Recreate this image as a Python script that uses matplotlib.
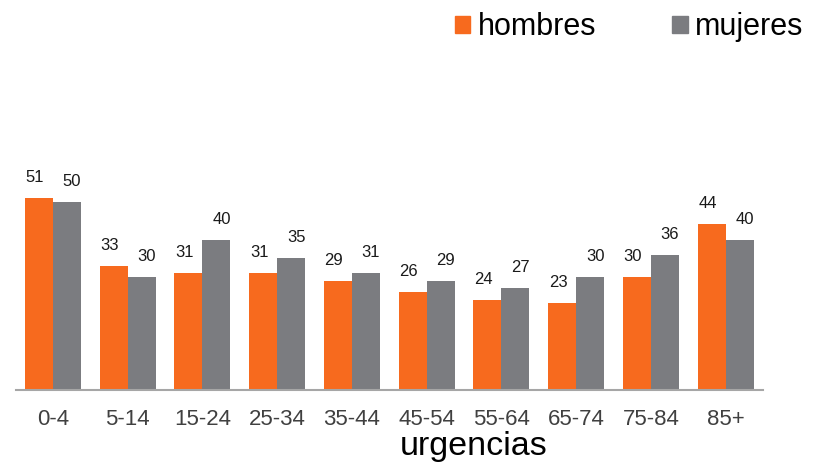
import matplotlib
matplotlib.use("Agg")
import matplotlib.pyplot as plt
import numpy as np
from matplotlib.patches import Patch

plt.rcParams['font.family'] = ['Liberation Sans', 'DejaVu Sans']

# data
grupos = ["0-4", "5-14", "15-24", "25-34", "35-44", "45-54", "55-64", "65-74", "75-84", "85+"]
hombres = [51, 33, 31, 31, 29, 26, 24, 23, 30, 44]
mujeres = [50, 30, 40, 35, 31, 29, 27, 30, 36, 40]

c_h = '#F76A1E'
c_m = '#7B7C80'

fig = plt.figure(figsize=(8.16, 4.66), dpi=100)
ax = fig.add_axes([0.0191, 0.163, 0.916, 0.646])

x = np.arange(len(grupos))
w = 0.375
b1 = ax.bar(x - w / 2, hombres, w, color=c_h, label='hombres')
b2 = ax.bar(x + w / 2, mujeres, w, color=c_m, label='mujeres')

# value labels
for rect, v in zip(b1, hombres):
    ax.annotate(str(v), (rect.get_x() + rect.get_width() / 2, v),
                xytext=(-4, 13), textcoords='offset pixels',
                ha='center', va='bottom', fontsize=12, color='#1a1a1a')
for rect, v in zip(b2, mujeres):
    ax.annotate(str(v), (rect.get_x() + rect.get_width() / 2, v),
                xytext=(5, 13), textcoords='offset pixels',
                ha='center', va='bottom', fontsize=12, color='#1a1a1a')

ax.set_xlim(-0.5, len(grupos) - 0.5)
ax.set_ylim(0, 80)
ax.set_xticks(x)
ax.set_xticklabels(grupos, fontsize=16, color='#404040')
ax.tick_params(axis='x', length=0, pad=14)
ax.set_yticks([])
for s in ['top', 'right', 'left']:
    ax.spines[s].set_visible(False)
ax.spines['bottom'].set_color('#A6A6A6')
ax.spines['bottom'].set_linewidth(1.5)

fig.text(474 / 816, 1 - 446 / 466, "urgencias", fontsize=24.5, ha='center', va='center', color='black')

handles = [Patch(color=c_h), Patch(color=c_m)]
fig.legend(handles, ['hombres', 'mujeres'], loc='upper right', bbox_to_anchor=(1.0, 1.0),
           ncol=2, frameon=False, fontsize=22, handlelength=0.5, handleheight=0.5,
           handletextpad=0.25, columnspacing=2.5, borderaxespad=0.0)

fig.savefig("out.png", dpi=100)
